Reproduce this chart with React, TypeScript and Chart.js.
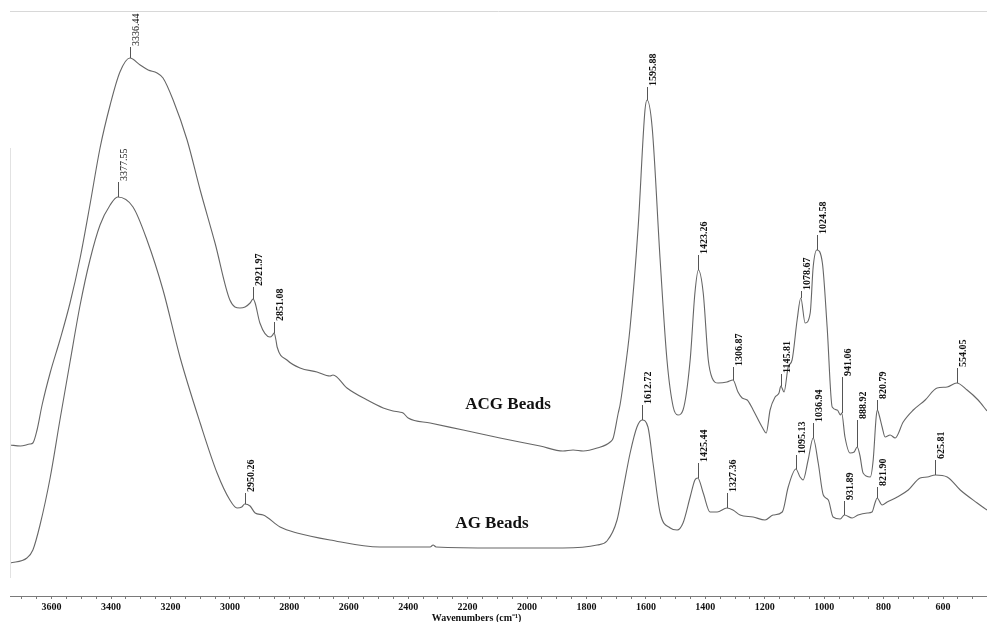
import React, { useEffect, useRef } from "react";
import { Chart, registerables } from "chart.js";

Chart.register(...registerables);

// ---------- data ----------
const acgWavenumbers = [
  3740, 3705, 3673, 3663, 3649, 3632, 3605, 3572, 3538, 3504,
  3471, 3437, 3403, 3370, 3336.44, 3302, 3275, 3245, 3225, 3191,
  3144, 3100, 3050, 3000, 2966, 2949, 2932, 2921.97, 2915, 2899,
  2865, 2856, 2851.08, 2845, 2841, 2808, 2764, 2707, 2663, 2653,
  2606, 2538, 2484, 2451, 2430, 2417, 2400, 2326, 2215, 2091,
  1956, 1879, 1845, 1811, 1764, 1720, 1710, 1693, 1687, 1677,
  1653, 1626, 1603, 1595.88, 1579, 1552, 1529, 1508, 1492, 1475,
  1451, 1435, 1423.26, 1407, 1390, 1377, 1357, 1327, 1306.87, 1290,
  1276, 1259, 1239, 1209, 1195, 1182, 1165, 1152, 1145.81, 1135,
  1121, 1108, 1091, 1078.67, 1064, 1047, 1037, 1024.58, 1006, 990,
  973, 956, 945, 941.06, 930, 913, 899, 888.92, 880, 869,
  845, 835, 825, 820.79, 815, 805, 795, 778, 761, 734,
  700, 660, 620, 586, 554.05, 519, 482, 452,
];
const acgAbsorbance = [
  151, 150, 152, 153, 166, 191, 223, 256, 293, 338,
  391, 448, 491, 524, 538, 531, 526, 523, 518, 496,
  456, 406, 353, 296, 288, 289, 293, 297, 293, 273,
  259, 261, 263, 256, 249, 236, 228, 224, 220, 221,
  208, 196, 188, 185, 184, 183, 178, 173, 166, 158,
  150, 145, 146, 145, 148, 154, 158, 183, 191, 211,
  269, 369, 486, 496, 469, 336, 236, 189, 181, 186,
  236, 303, 326, 303, 236, 218, 213, 214, 216, 204,
  198, 196, 186, 169, 163, 186, 199, 203, 210, 204,
  229, 236, 276, 298, 273, 283, 329, 346, 333, 269,
  189, 186, 181, 183, 159, 143, 144, 149, 141, 123,
  119, 136, 179, 186, 181, 169, 159, 161, 158, 174,
  186, 196, 208, 209, 213, 206, 196, 185,
];

const agWavenumbers = [
  3740, 3683, 3663, 3639, 3605, 3572, 3538, 3504, 3471, 3437,
  3403, 3377.55, 3326, 3279, 3225, 3168, 3100, 3043, 3000, 2976,
  2960, 2950.26, 2932, 2915, 2888, 2831, 2774, 2663, 2495, 2326,
  2316, 2306, 2101, 1879, 1764, 1731, 1697, 1677, 1653, 1630,
  1612.72, 1593, 1576, 1552, 1518, 1495, 1475, 1451, 1435, 1425.44,
  1407, 1384, 1360, 1327.36, 1307, 1283, 1239, 1199, 1172, 1141,
  1121, 1095.13, 1081, 1071, 1054, 1036.94, 1020, 1003, 986, 970,
  946, 931.89, 906, 886, 855, 839, 829, 821.9, 805, 788,
  754, 717, 677, 653, 625.81, 586, 542, 485, 452,
];
const agAbsorbance = [
  33, 38, 46, 71, 118, 176, 234, 291, 336, 371,
  391, 399, 389, 356, 306, 239, 173, 123, 96, 88,
  89, 92, 90, 83, 81, 69, 63, 56, 49, 49,
  51, 49, 48, 48, 51, 55, 76, 106, 143, 169,
  176, 169, 133, 83, 68, 66, 73, 99, 116, 118,
  103, 84, 84, 88, 86, 81, 79, 76, 81, 84,
  109, 127, 119, 116, 136, 158, 133, 101, 96, 79,
  77, 81, 78, 81, 83, 84, 93, 98, 91, 94,
  99, 106, 118, 119, 121, 119, 106, 93, 86,
];

const acgPeaks = [3336.44, 2921.97, 2851.08, 1595.88, 1423.26, 1306.87, 1145.81, 1078.67, 1024.58, 941.06, 888.92, 820.79, 554.05];
const agPeaks = [3377.55, 2950.26, 1612.72, 1425.44, 1327.36, 1095.13, 1036.94, 931.89, 821.9, 625.81];

const xTickLabels = [3600, 3400, 3200, 3000, 2800, 2600, 2400, 2200, 2000, 1800, 1600, 1400, 1200, 1000, 800, 600];
const seriesNames = ["ACG Beads", "AG Beads"];
const xTitle = "Wavenumbers (cm\u207B\u00B9)";

// ---------- styles ----------
const X_MIN = 452;
const X_MAX = 3740;
const Y_MAX = 585;
const acgTickLen = [11, 12, 11, 13, 15, 13, 12, 7, 15, 36, 27, 10, 15];
const agTickLen = [15, 11, 15, 15, 15, 14, 15, 14, 11, 15];
const acgLight = [true, false, false, false, false, false, false, false, false, false, false, false, false];
const agLight = [true, false, false, false, false, false, false, false, false, false];
const nameAnchors = [[2064, 191], [2118, 72]];
const SERIF = '"Liberation Serif", "Times New Roman", serif';
const LINE = "#666666";

function valueAt(wns: number[], vals: number[], w: number) {
  for (let i = 0; i < wns.length - 1; i++) {
    const a = wns[i], b = wns[i + 1];
    if (w <= a && w >= b) {
      const t = a === b ? 0 : (a - w) / (a - b);
      return vals[i] + t * (vals[i + 1] - vals[i]);
    }
  }
  return vals[vals.length - 1];
}

const annotationPlugin = {
  id: "ftirAnnotations",
  afterDatasetsDraw(chart: any) {
    const { ctx, chartArea, scales } = chart;
    const xs = scales.x;
    const ys = scales.y;
    ctx.save();

    // frame decorations
    ctx.strokeStyle = "#d8d8d8";
    ctx.lineWidth = 1;
    ctx.beginPath();
    ctx.moveTo(chartArea.left, chartArea.top + 0.5);
    ctx.lineTo(chartArea.right, chartArea.top + 0.5);
    ctx.stroke();
    ctx.strokeStyle = "#e2e2e2";
    ctx.beginPath();
    ctx.moveTo(chartArea.left + 0.5, ys.getPixelForValue(448));
    ctx.lineTo(chartArea.left + 0.5, ys.getPixelForValue(18));
    ctx.stroke();

    // peak markers
    const drawPeaks = (wns: number[], vals: number[], peaks: number[], lens: number[], light: boolean[]) => {
      peaks.forEach((p, i) => {
        const x = Math.round(xs.getPixelForValue(p)) + 0.5;
        const y = ys.getPixelForValue(valueAt(wns, vals, p));
        const top = y - lens[i];
        ctx.strokeStyle = "#555";
        ctx.lineWidth = 1;
        ctx.beginPath();
        ctx.moveTo(x, y);
        ctx.lineTo(x, top);
        ctx.stroke();
        ctx.save();
        ctx.translate(x + 6, top);
        ctx.rotate(-Math.PI / 2);
        ctx.fillStyle = "#111";
        ctx.font = `${light[i] ? "normal" : "bold"} 10px ${SERIF}`;
        ctx.textAlign = "left";
        ctx.textBaseline = "middle";
        ctx.fillText(p.toFixed(2), 1, 0);
        ctx.restore();
      });
    };
    drawPeaks(acgWavenumbers, acgAbsorbance, acgPeaks, acgTickLen, acgLight);
    drawPeaks(agWavenumbers, agAbsorbance, agPeaks, agTickLen, agLight);

    // series names
    ctx.fillStyle = "#111";
    ctx.font = `bold 17px ${SERIF}`;
    ctx.textAlign = "center";
    ctx.textBaseline = "middle";
    seriesNames.forEach((n, i) => {
      ctx.fillText(n, xs.getPixelForValue(nameAnchors[i][0]), ys.getPixelForValue(nameAnchors[i][1]));
    });

    // x-axis title
    ctx.font = `bold 10px ${SERIF}`;
    ctx.textAlign = "center";
    ctx.textBaseline = "middle";
    ctx.fillText(xTitle, xs.getPixelForValue(2170), chart.height - 4);
    ctx.restore();
  },
};

export default function App() {
  const canvasRef = useRef<HTMLCanvasElement | null>(null);

  useEffect(() => {
    document.body.style.margin = "0";
    const canvas = canvasRef.current;
    if (!canvas) return;
    const toPoints = (w: number[], v: number[]) => w.map((x, i) => ({ x, y: v[i] }));
    const chart = new Chart(canvas, {
      type: "line",
      data: {
        datasets: [
          {
            label: seriesNames[0],
            data: toPoints(acgWavenumbers, acgAbsorbance),
            borderColor: LINE,
            borderWidth: 1.1,
            pointRadius: 0,
            cubicInterpolationMode: "monotone",
            fill: false,
          },
          {
            label: seriesNames[1],
            data: toPoints(agWavenumbers, agAbsorbance),
            borderColor: LINE,
            borderWidth: 1.1,
            pointRadius: 0,
            cubicInterpolationMode: "monotone",
            fill: false,
          },
        ],
      },
      options: {
        animation: false,
        responsive: false,
        events: [],
        layout: { padding: { left: 10, top: 11, right: 0, bottom: 7 } },
        plugins: { legend: { display: false }, tooltip: { enabled: false }, title: { display: false } },
        scales: {
          x: {
            type: "linear",
            reverse: true,
            min: X_MIN,
            max: X_MAX,
            border: { display: true, color: "#7a7a7a", width: 1 },
            grid: { display: true, drawOnChartArea: false, drawTicks: true, tickLength: 3, color: "#7a7a7a" },
            afterBuildTicks: (axis: any) => {
              const t: { value: number }[] = [];
              for (let v = Math.ceil(X_MIN / 50) * 50; v <= X_MAX; v += 50) t.push({ value: v });
              axis.ticks = t;
            },
            ticks: {
              autoSkip: false,
              maxRotation: 0,
              padding: 2,
              color: "#111",
              font: { family: SERIF, size: 10, weight: "bold" },
              callback: (v: any) => (xTickLabels.includes(Number(v)) ? String(v) : ""),
            },
          },
          y: { display: false, min: 0, max: Y_MAX },
        },
      },
      plugins: [annotationPlugin],
    });
    return () => chart.destroy();
  }, []);

  return (
    <div style={{ width: 987, height: 622 }}>
      <canvas ref={canvasRef} width={987} height={622} style={{ display: "block" }} />
    </div>
  );
}
